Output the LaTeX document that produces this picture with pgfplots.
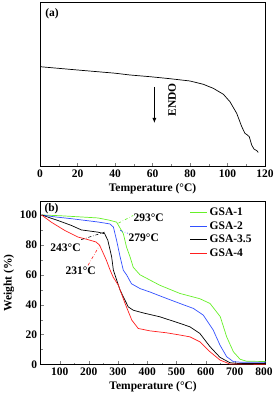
\documentclass[border=0pt]{standalone}
\usepackage{fontspec}
\setmainfont{Liberation Serif}
\usepackage{pgfplots}
\pgfplotsset{compat=1.18}
\usetikzlibrary{arrows.meta}
\definecolor{cgreen}{RGB}{102,240,40}
\definecolor{cblue}{RGB}{50,80,255}
\definecolor{cred}{RGB}{255,30,30}
\newcommand{\ff}{\bfseries\fontsize{11.5}{13}\selectfont}
\begin{document}
\begin{tikzpicture}
\pgfplotsset{
  every axis/.append style={
    scale only axis,
    axis line style={line width=0.8pt},
    tick align=inside,
    tick pos=left,
    /pgf/number format/assume math mode=true,
    tick label style={font=\ff},
    label style={font=\ff},
    major tick length=3pt, minor tick length=1.8pt,
  }
}
% ---------- panel (a) ----------
\begin{axis}[
  at={(40pt,235pt)}, anchor=south west,
  width=225pt, height=164pt,
  xmin=0, xmax=120, ymin=0, ymax=164,
  xtick={0,20,...,120}, minor x tick num=1,
  ytick=\empty,
  xlabel={Temperature (°C)},
  xlabel style={yshift=1pt},
]
\addplot[black, line width=0.7pt] coordinates {
(0,99.3) (20,96) (40,92.8) (48,91) (58.7,89.3) (69.3,87.3) (80,85)
(87.1,81.7) (92.4,77.7) (97.8,71.7) (101.3,64.3) (104.9,52.7) (107.6,39.3)
(109.3,32.7) (110.6,31) (111.6,29.3) (112.9,21) (114.1,17) (115.6,15.3) (116.4,13.7)
};
\node[font=\ff, anchor=north west] at (axis cs:1,161) {(a)};
\node[font=\ff, rotate=90] at (axis cs:70.4,66) {ENDO};
\draw[-{Latex[length=5pt,width=4pt]}, line width=0.8pt] (axis cs:61,79) -- (axis cs:61,43);
\end{axis}
% ---------- panel (b) ----------
\begin{axis}[
  at={(40.7pt,36.5pt)}, anchor=south west,
  width=224.8pt, height=163pt,
  xmin=35, xmax=805, ymin=0, ymax=109,
  xtick={100,200,...,800}, minor x tick num=1,
  ytick={0,20,...,100}, minor y tick num=1,
  xlabel={Temperature (°C)},
  ylabel={Weight (\%)},
  xlabel style={yshift=1pt},
  ylabel style={yshift=-1pt},
  legend style={draw=none, fill=none, at={(axis cs:535,107.5)}, anchor=north west,
    font=\ff, row sep=0.5pt},
  legend cell align=left,
  legend image post style={line width=0.8pt},
]
\addplot[cgreen, line width=0.7pt] coordinates {
(38,100) (100,99.5) (231,98) (270,96.5) (295,95.2) (318,87.5) (329,78.5) (341,72)
(352,65) (375,60) (409,56.5) (443,53) (512,47.5) (580,44) (615,40.8) (650,32)
(672,18.5) (695,8.5) (718,3.5) (740,2.2) (805,2)
};
\addlegendentry{GSA-1}
\addplot[cblue, line width=0.7pt] coordinates {
(38,100) (80,98.8) (140,97.5) (231,95.3) (272,94) (284,91.9) (295,83) (307,72)
(318,63) (329,60) (346,54) (375,50.8) (409,48.5) (455,45) (512,40.8) (558,37.5)
(592,33) (626,23) (649,13) (672,5.2) (695,1.9) (720,1.5) (805,1.5)
};
\addlegendentry{GSA-2}
\addplot[black, line width=0.7pt] coordinates {
(38,100) (94,96.3) (140,93) (174,90) (231,88.5) (254,87.5) (265,83) (278,72)
(284,63) (307,49.7) (335,38.5) (352,36.3) (386,34.5) (443,31.9) (512,27.5)
(546,25.2) (580,20.8) (615,11.9) (649,4.8) (683,1.2) (710,0.7) (805,0.7)
};
\addlegendentry{GSA-3.5}
\addplot[cred, line width=0.7pt] coordinates {
(38,100) (71,95.2) (117,89.7) (163,85.2) (197,83.5) (225,81.9) (237,79.7)
(260,69.7) (272,63.5) (283,58.5) (301,53) (324,40.8) (347,29.7) (369,24.1)
(409,22.5) (466,21.2) (512,19.7) (546,18.5) (580,15.2) (615,8.5) (649,3)
(683,0.3) (805,0.2)
};
\addlegendentry{GSA-4}
% annotations
\draw[cgreen, dash dot, line width=0.6pt] (axis cs:301,94.5) -- (axis cs:352,99.7);
\node[font=\ff] at (axis cs:405,98.3) {293°C};
\draw[cblue, dash dot, line width=0.6pt] (axis cs:307,89.7) -- (axis cs:334,87.7);
\node[font=\ff] at (axis cs:388,85) {279°C};
\draw[black, dash dot, line width=0.6pt] (axis cs:174,83.5) -- (axis cs:254,88.5);
\node[font=\ff] at (axis cs:120,78.3) {243°C};
\draw[cred, dash dot, line width=0.6pt] (axis cs:197,66.3) -- (axis cs:237,79.7);
\node[font=\ff] at (axis cs:172,63) {231°C};
\node[font=\ff, anchor=north west] at (axis cs:36,110) {(b)};
\end{axis}
\pgfresetboundingbox
\path (0pt,0pt) rectangle (275pt,401pt);
\end{tikzpicture}
\end{document}
